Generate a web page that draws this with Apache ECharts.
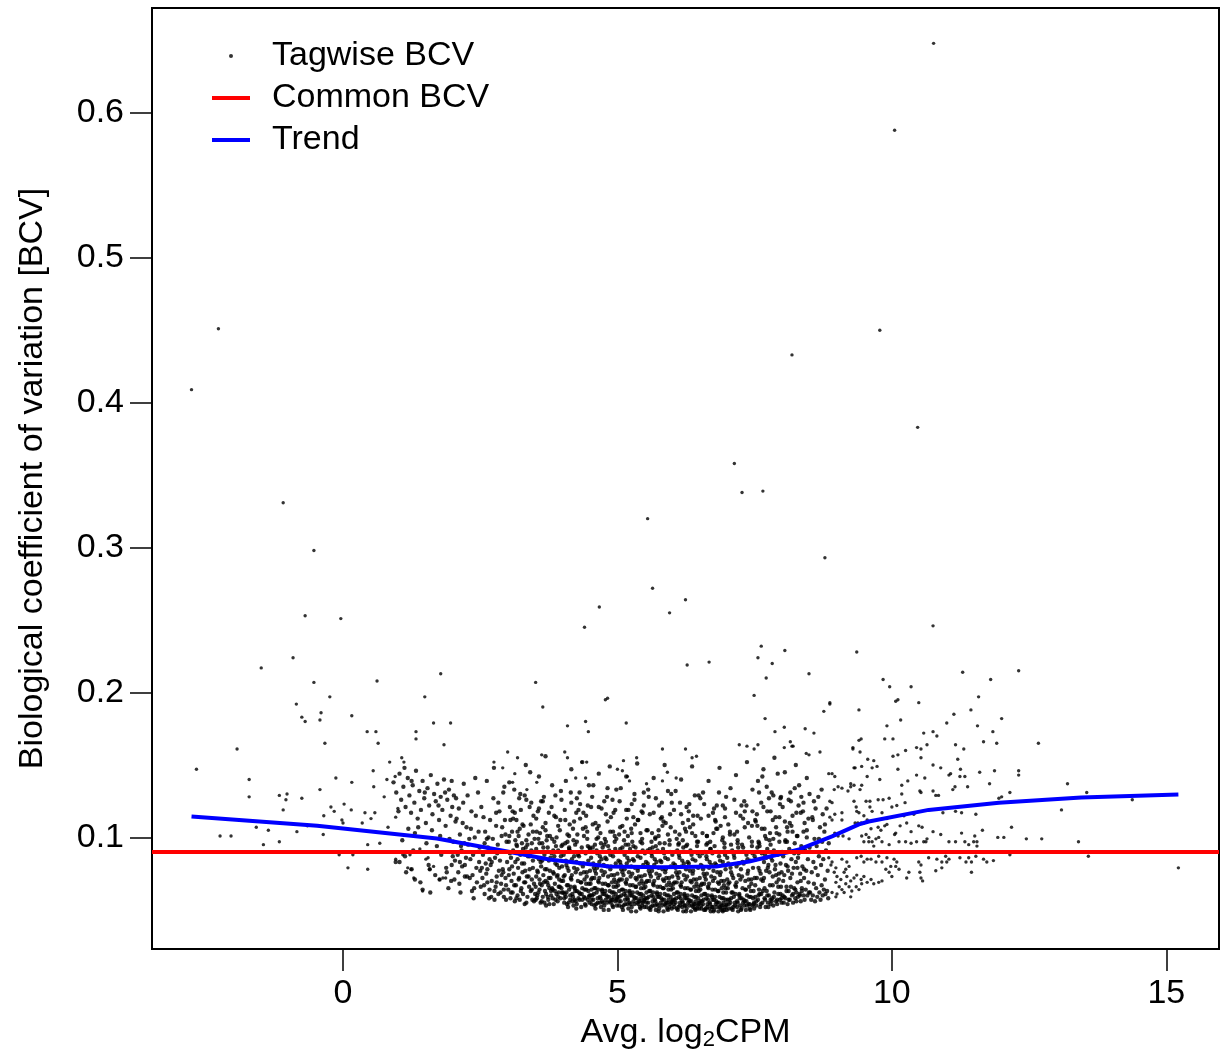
<!DOCTYPE html>
<html>
<head>
<meta charset="utf-8">
<title>BCV plot</title>
<script src="https://cdn.jsdelivr.net/npm/echarts@6/dist/echarts.min.js"></script>
<style>
  html, body { margin: 0; padding: 0; background: #fff; }
  #main { width: 1221px; height: 1056px; }
</style>
</head>
<body>
<div id="main"></div>
<script>
// tagwise BCV: avg logCPM * 100, BCV * 1000
const lowExpr = [
  -276,409, -227,451, -109,331, -53,298, -69,253, -4,251,
  -91,224, -149,217, -53,207, 62,208, 178,213, -24,197, -85,192, 149,197, -75,183, -69,180,
  -40,186, -42,181, 16,184, 165,179, 196,179, 44,173, 60,173, 64,165, -33,165, 133,173,
  133,168, 184,164, -193,161, -267,147, -171,140, -171,128, -116,129, -102,130, -104,126, -109,119,
  -75,127, -42,133, -13,141, 16,138, 55,146, 56,135, 85,152, 107,155, 111,152, 80,140,
  95,142, -22,121, -16,118, 2,123, 15,119, -35,115, -2,112, 0,110, 40,117, 51,113,
  58,117, 35,110, 75,128, 82,107, 96,114, 100,120, -158,107, -136,105, -224,101, -204,101,
  -116,97, -84,104, -65,108, -36,102, -145,95, -7,88, 9,79, 18,88, 45,78, 45,95,
  67,96, 71,90, 93,90, 96,85, 109,88, 122,88, 118,79, 124,78, 129,72, 145,63,
  140,92, 151,85, 155,86, 165,80, 158,78, 176,71, 182,72, 187,72
];

const midExpr = [
  92,138, 97,131, 103,144, 106,126, 110,135, 114,121, 118,141, 121,129, 124,117, 127,136,
  130,124, 133,146, 136,113, 139,132, 142,119, 145,139, 148,127, 151,110, 154,134, 157,122,
  160,143, 163,116, 166,130, 169,125, 172,137, 175,112, 178,128, 181,119, 184,140, 187,108,
  190,126, 193,133, 196,115, 199,121, 202,129, 205,111, 101,118, 112,148, 125,139, 137,107,
  149,131, 162,105, 174,122, 186,131, 198,139,
  201,97, 204,84, 207,113, 210,76, 213,102, 216,91, 219,124, 222,81, 225,107, 228,95,
  231,72, 234,118, 237,88, 240,100, 243,79, 246,131, 249,93, 212,68, 218,110, 224,86,
  230,99, 236,74, 242,115, 248,83, 206,127, 215,94, 233,106, 239,65, 245,90, 220,137,
  203,71, 209,88, 214,62, 221,96, 226,73, 232,85, 238,58, 244,69, 247,104, 250,77,
  211,120, 227,129, 241,141, 217,80, 235,63,
  103,83, 115,76, 128,91, 141,69, 156,81, 168,74, 179,88, 192,65, 171,94, 188,79, 197,70, 159,62,
  108,98, 131,103, 152,96, 177,101, 194,99, 119,106,
  96,83, 113,87, 125,78, 131,71, 145,64, 158,78, 176,71, 189,76, 198,81, 213,83, 222,73, 200,87
];

const coreA = [
  // 2.5 - 3.0
  252,121, 255,88, 257,67, 259,104, 261,75, 262,139, 264,93, 266,58, 268,112, 269,81,
  271,70, 273,99, 274,127, 276,63, 277,86, 279,108, 280,73, 282,95, 283,61, 285,118,
  286,84, 288,68, 289,101, 291,78, 292,131, 293,64, 294,90, 295,112, 296,72, 297,57,
  298,97, 299,83, 253,79, 258,96, 263,69, 267,85, 272,91, 278,66, 284,77, 290,107,
  256,114, 265,100, 270,59, 275,148, 281,89, 287,62, 292,76, 296,102, 260,82, 283,124,
  251,66, 254,72, 258,61, 263,78, 267,64, 271,83, 276,57, 280,69, 284,90, 289,74,
  293,59, 297,67, 262,99, 279,117, 294,135,
  // 3.0 - 3.5
  301,64, 302,97, 303,78, 304,121, 305,58, 306,86, 307,70, 308,104, 309,62, 310,91,
  311,75, 312,133, 313,56, 314,83, 315,67, 316,112, 317,94, 318,60, 319,79, 320,101,
  321,72, 322,57, 323,88, 324,119, 325,65, 326,96, 327,76, 328,61, 329,108, 330,82,
  331,54, 332,69, 333,93, 334,126, 335,73, 336,59, 337,87, 338,102, 339,66, 340,78,
  341,145, 342,63, 343,91, 344,71, 345,57, 346,84, 347,115, 348,68, 349,99, 350,61,
  302,74, 304,89, 306,62, 308,80, 310,113, 312,67, 314,98, 316,58, 318,85, 320,71,
  322,106, 324,63, 326,82, 328,92, 330,69, 332,77, 334,55, 336,95, 338,73, 340,87,
  342,109, 344,64, 346,79, 348,56, 303,138, 313,117, 323,130, 333,150, 343,124, 347,90,
  // 3.5 - 4.0
  351,66, 352,92, 353,58, 354,77, 355,118, 356,62, 357,85, 358,71, 359,103, 360,55,
  361,80, 362,67, 363,96, 364,59, 365,74, 366,128, 367,88, 368,63, 369,110, 370,53,
  371,78, 372,69, 373,93, 374,57, 375,84, 376,65, 377,101, 378,72, 379,60, 380,89,
  381,136, 382,64, 383,76, 384,54, 385,97, 386,68, 387,82, 388,114, 389,61, 390,73,
  391,56, 392,91, 393,66, 394,79, 395,105, 396,58, 397,87, 398,70, 399,62, 400,95,
  352,73, 354,60, 356,99, 358,64, 360,83, 362,56, 364,107, 366,69, 368,78, 370,61,
  372,90, 374,67, 376,54, 378,86, 380,121, 382,58, 384,75, 386,63, 388,94, 390,81,
  392,59, 394,71, 396,112, 398,65, 351,57, 355,76, 359,68, 363,84, 367,55, 371,98,
  375,72, 379,63, 383,91, 387,57, 391,74, 395,66, 399,80, 353,104, 357,142, 361,125,
  365,93, 369,70, 373,59, 377,77, 381,65, 385,87, 389,100, 393,62, 397,132, 369,156
];

const coreB = [
  // 4.0 - 4.5
  401,62, 402,88, 403,55, 404,74, 405,112, 406,59, 407,81, 408,67, 409,97, 410,52,
  411,77, 412,64, 413,91, 414,57, 415,72, 416,124, 417,85, 418,61, 419,106, 420,53,
  421,79, 422,66, 423,95, 424,56, 425,83, 426,63, 427,102, 428,70, 429,58, 430,87,
  431,131, 432,61, 433,75, 434,52, 435,93, 436,65, 437,80, 438,117, 439,59, 440,71,
  441,54, 442,89, 443,64, 444,76, 445,99, 446,57, 447,84, 448,68, 449,60, 450,92,
  401,70, 403,58, 405,96, 407,62, 409,79, 411,55, 413,109, 415,66, 417,74, 419,59,
  421,87, 423,63, 425,51, 427,78, 429,119, 431,57, 433,69, 435,61, 437,90, 439,76,
  441,58, 443,68, 445,104, 447,63, 449,55, 402,73, 404,61, 406,84, 408,54, 410,67,
  412,93, 414,60, 416,71, 418,56, 420,98, 422,65, 424,76, 426,54, 428,88, 430,62,
  432,113, 434,69, 436,57, 438,82, 440,64, 442,53, 444,73, 446,94, 448,59, 450,77,
  406,139, 416,147, 426,127, 436,152, 446,122, 412,101, 422,57, 432,82, 442,107, 448,136,
  // 4.5 - 5.0
  451,60, 452,86, 453,54, 454,72, 455,109, 456,57, 457,79, 458,65, 459,95, 460,51,
  461,75, 462,62, 463,89, 464,55, 465,70, 466,121, 467,83, 468,59, 469,103, 470,52,
  471,77, 472,64, 473,93, 474,55, 475,81, 476,61, 477,99, 478,68, 479,57, 480,85,
  481,128, 482,59, 483,73, 484,50, 485,91, 486,63, 487,78, 488,114, 489,57, 490,69,
  491,53, 492,87, 493,62, 494,74, 495,97, 496,56, 497,82, 498,66, 499,58, 500,90,
  451,68, 453,57, 455,93, 457,61, 459,77, 461,54, 463,106, 465,64, 467,72, 469,58,
  471,85, 473,61, 475,50, 477,76, 479,116, 481,55, 483,67, 485,59, 487,88, 489,74,
  491,57, 493,66, 495,101, 497,61, 499,53, 452,71, 454,60, 456,82, 458,53, 460,65,
  462,91, 464,58, 466,69, 468,55, 470,96, 472,63, 474,74, 476,53, 478,86, 480,60,
  482,111, 484,67, 486,56, 488,80, 490,62, 492,52, 494,71, 496,92, 498,57, 500,75,
  456,136, 466,144, 476,125, 486,149, 496,119, 462,99, 472,56, 482,80, 492,104, 498,133,
  453,64, 463,79, 473,68, 483,94, 493,59, 458,72, 468,87, 478,63, 488,55, 497,69,
  // 5.0 - 5.5
  501,59, 502,84, 503,53, 504,71, 505,107, 506,56, 507,78, 508,64, 509,93, 510,50,
  511,74, 512,61, 513,88, 514,54, 515,69, 516,119, 517,82, 518,58, 519,101, 520,51,
  521,76, 522,63, 523,92, 524,54, 525,80, 526,60, 527,97, 528,67, 529,56, 530,84,
  531,126, 532,58, 533,72, 534,49, 535,90, 536,62, 537,77, 538,112, 539,56, 540,68,
  541,52, 542,86, 543,61, 544,73, 545,96, 546,55, 547,81, 548,65, 549,57, 550,89,
  501,67, 503,56, 505,92, 507,60, 509,76, 511,53, 513,104, 515,63, 517,71, 519,57,
  521,84, 523,60, 525,49, 527,75, 529,114, 531,54, 533,66, 535,58, 537,87, 539,73,
  541,56, 543,65, 545,99, 547,60, 549,52, 502,70, 504,59, 506,81, 508,52, 510,64,
  512,90, 514,57, 516,68, 518,54, 520,95, 522,62, 524,73, 526,52, 528,85, 530,59,
  532,109, 534,66, 536,55, 538,79, 540,61, 542,51, 544,70, 546,91, 548,56, 550,74,
  506,134, 516,142, 526,123, 536,151, 546,117, 512,98, 522,55, 532,79, 542,103, 548,131,
  503,63, 513,78, 523,67, 533,93, 543,58, 508,71, 518,86, 528,62, 538,54, 547,68,
  505,83, 515,60, 525,106, 535,71, 545,53,
  // 5.5 - 6.0
  551,58, 552,83, 553,52, 554,70, 555,105, 556,55, 557,77, 558,63, 559,92, 560,50,
  561,73, 562,60, 563,87, 564,53, 565,68, 566,117, 567,81, 568,57, 569,99, 570,50,
  571,75, 572,62, 573,91, 574,53, 575,79, 576,59, 577,96, 578,66, 579,55, 580,83,
  581,124, 582,57, 583,71, 584,49, 585,89, 586,61, 587,76, 588,110, 589,55, 590,67,
  591,51, 592,85, 593,60, 594,72, 595,95, 596,54, 597,80, 598,64, 599,56, 600,88,
  551,66, 553,55, 555,91, 557,59, 559,75, 561,52, 563,103, 565,62, 567,70, 569,56,
  571,83, 573,59, 575,49, 577,74, 579,113, 581,53, 583,65, 585,57, 587,86, 589,72,
  591,55, 593,64, 595,98, 597,59, 599,51, 552,69, 554,58, 556,80, 558,51, 560,63,
  562,89, 564,56, 566,67, 568,53, 570,94, 572,61, 574,72, 576,51, 578,84, 580,58,
  582,108, 584,65, 586,54, 588,78, 590,60, 592,50, 594,69, 596,90, 598,55, 600,73,
  556,133, 566,141, 576,122, 586,150, 596,116, 562,97, 572,54, 582,78, 592,102, 598,130,
  553,62, 563,77, 573,66, 583,92, 593,57, 558,70, 568,85, 578,61, 588,53, 597,67,
  555,82, 565,59, 575,105, 585,70, 595,52
];

const coreC = [
  // 6.0 - 6.5
  601,57, 602,82, 603,52, 604,69, 605,104, 606,55, 607,76, 608,62, 609,91, 610,50,
  611,72, 612,59, 613,86, 614,53, 615,67, 616,116, 617,80, 618,56, 619,98, 620,49,
  621,74, 622,61, 623,90, 624,53, 625,78, 626,58, 627,95, 628,65, 629,55, 630,82,
  631,123, 632,56, 633,70, 634,49, 635,88, 636,60, 637,75, 638,109, 639,54, 640,66,
  641,51, 642,84, 643,59, 644,71, 645,94, 646,53, 647,79, 648,63, 649,55, 650,87,
  601,65, 603,54, 605,90, 607,58, 609,74, 611,52, 613,102, 615,61, 617,69, 619,55,
  621,82, 623,58, 625,49, 627,73, 629,112, 631,53, 633,64, 635,56, 637,85, 639,71,
  641,54, 643,63, 645,97, 647,58, 649,51, 602,68, 604,57, 606,79, 608,51, 610,62,
  612,88, 614,55, 616,66, 618,52, 620,93, 622,60, 624,71, 626,51, 628,83, 630,57,
  632,107, 634,64, 636,53, 638,77, 640,59, 642,50, 644,68, 646,89, 648,54, 650,72,
  606,132, 616,140, 626,121, 636,149, 646,115, 612,96, 622,53, 632,77, 642,101, 648,129,
  603,61, 613,76, 623,65, 633,91, 643,56, 608,69, 618,84, 628,60, 638,52, 647,66,
  605,81, 615,58, 625,104, 635,69, 645,51,
  // 6.5 - 7.0
  651,56, 652,81, 653,51, 654,68, 655,103, 656,54, 657,75, 658,61, 659,90, 660,50,
  661,71, 662,58, 663,85, 664,52, 665,66, 666,115, 667,79, 668,55, 669,97, 670,49,
  671,73, 672,60, 673,89, 674,52, 675,77, 676,57, 677,94, 678,64, 679,54, 680,81,
  681,122, 682,55, 683,69, 684,49, 685,87, 686,59, 687,74, 688,108, 689,53, 690,65,
  691,50, 692,83, 693,58, 694,70, 695,93, 696,52, 697,78, 698,62, 699,54, 700,86,
  651,64, 653,53, 655,89, 657,57, 659,73, 661,51, 663,101, 665,60, 667,68, 669,54,
  671,81, 673,57, 675,49, 677,72, 679,111, 681,52, 683,63, 685,55, 687,84, 689,70,
  691,53, 693,62, 695,96, 697,57, 699,50, 652,67, 654,56, 656,78, 658,50, 660,61,
  662,87, 664,54, 666,65, 668,51, 670,92, 672,59, 674,70, 676,50, 678,82, 680,56,
  682,106, 684,63, 686,52, 688,76, 690,58, 692,49, 694,67, 696,88, 698,53, 700,71,
  656,131, 666,139, 676,120, 686,148, 696,114, 662,95, 672,52, 682,76, 692,100, 698,128,
  653,60, 663,75, 673,64, 683,90, 693,55, 658,68, 668,83, 678,59, 688,51, 697,65,
  655,80, 665,57, 675,103, 685,68, 695,50,
  // 7.0 - 7.5
  701,57, 702,82, 703,51, 704,69, 705,104, 706,55, 707,76, 708,62, 709,91, 710,50,
  711,72, 712,59, 713,86, 714,53, 715,67, 716,117, 717,80, 718,56, 719,98, 720,49,
  721,74, 722,61, 723,90, 724,53, 725,78, 726,58, 727,95, 728,65, 729,55, 730,82,
  731,125, 732,56, 733,70, 734,50, 735,88, 736,60, 737,75, 738,110, 739,54, 740,66,
  741,51, 742,84, 743,59, 744,71, 745,94, 746,53, 747,79, 748,63, 749,55, 750,87,
  701,65, 703,54, 705,90, 707,58, 709,74, 711,52, 713,102, 715,61, 717,69, 719,55,
  721,82, 723,58, 725,50, 727,73, 729,113, 731,53, 733,64, 735,56, 737,85, 739,71,
  741,54, 743,63, 745,97, 747,58, 749,51, 702,68, 704,57, 706,79, 708,51, 710,62,
  712,88, 714,55, 716,66, 718,52, 720,93, 722,60, 724,71, 726,51, 728,83, 730,57,
  732,107, 734,64, 736,53, 738,77, 740,59, 742,50, 744,68, 746,89, 748,54, 750,72,
  706,134, 716,143, 726,122, 736,152, 746,118,
  // 7.5 - 8.0
  751,59, 752,85, 753,53, 754,72, 755,108, 756,57, 757,79, 758,64, 759,94, 760,52,
  761,75, 762,61, 763,89, 764,55, 765,70, 766,121, 767,83, 768,58, 769,101, 770,52,
  771,77, 772,63, 773,92, 774,55, 775,81, 776,60, 777,98, 778,67, 779,57, 780,86,
  781,131, 782,58, 783,73, 784,53, 785,91, 786,62, 787,78, 788,114, 789,56, 790,69,
  791,54, 792,88, 793,61, 794,75, 795,97, 796,57, 797,82, 798,66, 799,58, 800,90,
  751,67, 753,56, 755,93, 757,60, 759,77, 761,54, 763,106, 765,63, 767,72, 769,57,
  771,86, 773,60, 775,52, 777,76, 779,118, 781,56, 783,67, 785,59, 787,89, 789,74,
  791,57, 793,66, 795,102, 797,61, 799,55, 756,139, 766,147, 776,127, 786,155, 796,123,
  752,111, 762,71, 772,135, 782,84, 792,144, 758,96, 768,65, 778,103, 788,81, 798,128,
  754,116, 764,142, 774,79, 784,99, 794,71, 759,61, 769,88, 779,54, 789,107, 799,76
];

const coreD = [
  // 8.0 - 8.5
  801,60, 802,87, 803,55, 804,74, 805,111, 806,58, 807,81, 808,66, 809,97, 810,54,
  811,77, 812,63, 813,92, 814,57, 815,72, 816,125, 817,85, 818,60, 819,104, 820,55,
  821,79, 822,65, 823,96, 824,58, 825,83, 826,62, 827,101, 828,69, 829,59, 830,89,
  831,136, 832,61, 833,75, 834,56, 835,94, 836,65, 837,80, 838,118, 839,60, 840,72,
  841,57, 842,91, 843,64, 844,77, 845,100, 846,60, 847,85, 848,69, 849,62, 850,93,
  802,70, 804,59, 806,97, 808,63, 810,80, 812,57, 814,110, 816,66, 818,75, 820,61,
  822,89, 824,64, 826,56, 828,79, 830,122, 832,60, 834,70, 836,63, 838,92, 840,78,
  805,145, 815,131, 825,150, 835,128, 845,141, 809,107, 819,115, 829,86, 839,104, 848,113,
  // 8.5 - 8.85
  851,62, 852,90, 853,57, 854,76, 855,114, 856,60, 857,83, 858,68, 859,99, 860,56,
  861,79, 862,65, 863,94, 864,59, 865,74, 866,128, 867,87, 868,62, 869,107, 870,57,
  871,81, 872,67, 873,97, 874,60, 875,85, 876,64, 877,104, 878,71, 879,61, 880,91,
  881,120, 882,63, 883,77, 884,58, 885,96
];

// the band just above the common BCV line, 3 < logCPM < 9
const coreUpper = [
  303,101, 309,118, 316,95, 321,127, 327,109, 334,98, 340,121, 346,104, 352,113, 358,96,
  364,125, 369,105, 375,117, 381,99, 387,129, 392,108, 398,94, 404,119, 409,102, 415,131,
  421,111, 426,97, 432,123, 437,106, 443,115, 449,93, 454,128, 460,110, 465,100, 471,120,
  476,95, 482,134, 487,104, 493,117, 498,99, 504,125, 509,108, 515,95, 520,119, 526,103,
  531,130, 537,112, 542,97, 548,122, 553,105, 559,116, 564,93, 570,127, 575,101, 581,114,
  586,96, 592,132, 597,107, 603,119, 608,99, 614,124, 619,110, 625,94, 630,118, 636,103,
  641,129, 647,97, 652,113, 658,123, 663,101, 669,92, 674,117, 680,106, 685,131, 691,98,
  696,120, 702,109, 707,95, 713,126, 718,104, 724,115, 729,93, 735,122, 740,100, 746,133,
  751,112, 757,97, 762,124, 768,106, 773,118, 779,95, 784,129, 790,103, 795,114, 801,121,
  806,98, 812,126, 817,108, 823,134, 828,101, 834,117, 839,124, 845,105, 850,130, 856,112,
  861,120, 867,99, 872,133, 878,109, 305,112, 318,104, 331,129, 344,96, 357,120, 372,101,
  385,115, 398,126, 412,92, 425,117, 439,101, 452,121, 466,108, 479,97, 491,126, 503,102,
  517,113, 529,94, 544,118, 557,128, 569,100, 584,111, 599,124, 611,95, 623,106, 638,115,
  651,127, 664,96, 678,112, 692,122, 705,102, 719,96, 732,118, 745,108, 758,131, 771,99,
  783,112, 797,127, 810,104, 826,117, 841,110, 858,125, 874,116
];

const highExpr = [
  984,209, 996,204, 1035,204, 1129,214, 887,193, 940,188, 1007,194, 1011,195, 1049,193, 1158,197,
  1016,181, 1100,179, 1113,185, 1144,188, 991,177, 1156,177, 1058,172, 1075,173, 1082,170, 987,168,
  1002,168, 940,167, 944,168, 1025,160, 1045,162, 1053,161, 1064,164, 1053,155, 1116,164, 1131,161,
  1167,166, 929,162, 942,159, 1002,156, 1011,157, 1075,150, 1120,154, 956,154, 967,153, 945,149,
  931,148, 933,148, 964,148, 973,149, 1011,147, 1089,148, 1125,147, 1160,145, 885,144, 891,144,
  896,142, 925,137, 931,136, 925,135, 955,142, 978,140, 1104,143, 1107,144, 1045,143, 1029,139,
  1060,141, 1018,136, 902,135, 909,134, 895,133, 945,136, 942,133, 1115,135, 1124,142, 1133,142,
  1138,135, 920,132, 1018,130, 1051,132, 1053,131, 1075,132, 1080,129, 1085,129, 1111,133, 975,126,
  984,126, 995,127, 953,125, 960,125, 960,121, 931,125, 935,121, 887,125, 891,124, 1024,124,
  1009,122, 1000,121, 936,118, 940,117, 949,115, 909,117, 896,116, 964,118, 982,117, 1022,115,
  887,114, 891,112, 955,112, 949,110, 991,113, 991,109, 1040,116, 1093,117, 1116,118, 1127,117,
  1153,116, 933,110, 938,110, 944,110, 909,112, 962,106, 975,107, 980,105, 987,108, 1049,108,
  1055,107, 1035,104, 1015,108, 1007,103, 1005,102, 1027,110, 1089,102, 1075,104, 1165,105, 1127,103,
  1151,101, 1064,99, 1062,97, 1058,97, 896,103, 902,101, 911,101, 922,99, 945,101, 953,102,
  958,100, 964,97, 971,99, 976,100, 982,97, 949,97, 958,97, 967,94, 995,95, 1013,97,
  1025,97, 1035,96, 1045,97, 1104,97, 1116,97, 1133,97, 1140,95, 1149,97, 1155,97,
  885,86, 891,83, 889,81, 898,79, 909,85, 918,83, 922,80, 916,78, 931,90, 936,86,
  944,87, 949,83, 955,85, 962,85, 971,83, 976,87, 982,83, 991,86, 1004,85, 1009,83,
  998,80, 1013,78, 989,78, 1031,76, 1027,72, 1049,83, 1053,81, 1051,76, 1053,72, 1056,70,
  1067,86, 1082,85, 1091,83, 1098,87, 1100,83, 1104,85, 1080,77, 1091,79, 1124,86, 1127,90,
  1135,83, 1140,86, 1145,83, 1153,87, 1155,94, 1145,76, 1167,85, 1173,83,
  895,76, 900,73, 907,71, 913,76, 918,73, 925,70, 931,72, 936,74, 944,71, 949,73,
  955,69, 962,71, 898,69, 904,66, 909,64, 916,68, 922,66, 927,63, 935,66, 940,64,
  945,68, 891,62, 900,61, 913,62, 925,59, 898,59, 976,69, 982,70, 967,68, 1000,73,
  995,76, 1007,80,
  1180,209, 1231,215, 1200,182, 1184,173, 1191,165, 1267,165, 1187,146, 1231,146, 1231,143, 1178,137,
  1320,137, 1215,131, 1195,127, 1200,128, 1355,131, 1438,126, 1309,119, 1218,107, 1193,100, 1204,100,
  1245,99, 1273,99, 1340,97, 1187,90, 1215,88, 1185,84, 1358,87, 1522,79
];

const outliers = [
  1076,648, 1005,588, 978,450, 818,433, 1047,383, 713,358, 727,338, 765,339, 878,293, 555,320,
  564,272, 624,264, 595,255, 467,259, 440,245, 1075,246,
  351,207, 364,190, 478,195, 482,196, 409,177, 442,180, 447,173, 516,179, 627,219, 667,221,
  762,232, 756,224, 782,220, 805,229, 771,210, 749,198, 849,213, 769,182, 787,173, 804,176,
  842,175, 858,172, 876,187, 887,192, 936,228, 404,159, 409,155, 362,157, 582,161, 624,161,
  722,164, 736,163, 749,161, 756,164, 804,162, 818,163, 929,161, 869,159, 636,155, 644,156,
  815,166, 820,163, 844,158, 849,157, 435,152, 444,152, 500,147, 511,153, 535,155, 509,146,
  424,141, 442,141, 518,142, 522,139, 553,137, 582,139, 591,145, 607,141,
  300,159, 318,155, 275,152, 291,148, 313,144, 309,138, 335,133, 353,138
];

const commonBCV = 0.0917;

const trendX = [-2.76, -0.47, 1.71, 2.80, 3.76, 4.85, 5.80, 6.80, 7.40, 8.31, 8.91, 9.40, 9.58, 10.67, 11.95, 13.45, 15.22];
const trendY = [0.1145, 0.108, 0.0993, 0.0917, 0.0848, 0.080, 0.0795, 0.080, 0.0834, 0.0917, 0.1007, 0.109, 0.111, 0.119, 0.124, 0.1276, 0.1297];

const xTicks = [0, 5, 10, 15];
const yTicks = [0.1, 0.2, 0.3, 0.4, 0.5, 0.6];

const FONT = '"Liberation Sans", Arial, Helvetica, sans-serif';

function toPoints(lists) {
  const out = [];
  lists.forEach(a => {
    for (let i = 0; i < a.length; i += 2) out.push([a[i] / 100, a[i + 1] / 1000]);
  });
  return out;
}

const sparsePts = toPoints([lowExpr, highExpr, outliers]);
const densePts = toPoints([midExpr, coreA, coreB, coreC, coreD, coreUpper]);
const trend = trendX.map((x, i) => [x, trendY[i]]);

const chart = echarts.init(document.getElementById('main'));

const option = {
  animation: false,
  backgroundColor: '#fff',
  grid: {
    left: 152, top: 8, width: 1067, height: 942,
    show: true, borderColor: '#000', borderWidth: 2
  },
  legend: {
    orient: 'vertical',
    left: 207, top: 34,
    itemWidth: 38, itemHeight: 4, itemGap: 8,
    selectedMode: false,
    textStyle: { fontSize: 34, color: '#000', fontFamily: FONT, lineHeight: 34, padding: [0, 0, 0, 17] },
    data: [
      { name: 'Tagwise BCV', icon: 'circle' },
      { name: 'Common BCV', icon: 'rect' },
      { name: 'Trend', icon: 'rect' }
    ]
  },
  xAxis: {
    type: 'value',
    min: -3.48, max: 15.96,
    splitLine: { show: false },
    axisLine: { show: false, onZero: false },
    axisTick: { show: true, length: 22, customValues: xTicks, lineStyle: { color: '#000', width: 1.5 } },
    axisLabel: { customValues: xTicks, margin: 28, fontSize: 34, color: '#000', fontFamily: FONT },
    name: 'Avg. log{sub|2}CPM',
    nameLocation: 'middle',
    nameGap: 66,
    nameTextStyle: {
      fontSize: 34, color: '#000', fontFamily: FONT,
      rich: { sub: { fontSize: 22, color: '#000', fontFamily: FONT, padding: [14, 0, 0, 0] } }
    }
  },
  yAxis: {
    type: 'value',
    min: 0.023, max: 0.6724,
    splitLine: { show: false },
    axisLine: { show: false, onZero: false },
    axisTick: { show: true, length: 22, customValues: yTicks, lineStyle: { color: '#000', width: 1.5 } },
    axisLabel: {
      customValues: yTicks, margin: 28, fontSize: 34, color: '#000', fontFamily: FONT,
      formatter: v => v.toFixed(1)
    },
    name: 'Biological coefficient of variation [BCV]',
    nameLocation: 'middle',
    nameRotate: 90,
    nameGap: 102,
    nameTextStyle: { fontSize: 34, color: '#000', fontFamily: FONT }
  },
  series: [
    {
      name: 'Tagwise BCV',
      type: 'scatter',
      symbol: 'circle',
      symbolSize: 3.4,
      itemStyle: { color: '#000' },
      silent: true,
      z: 2,
      data: sparsePts
    },
    {
      // same legend entry; the crowded middle is drawn a little heavier
      name: 'Tagwise BCV',
      type: 'scatter',
      symbol: 'circle',
      symbolSize: 4.4,
      itemStyle: { color: '#000' },
      silent: true,
      z: 2,
      data: densePts
    },
    {
      name: 'Common BCV',
      type: 'line',
      data: [],
      itemStyle: { color: '#ff0000' },
      lineStyle: { color: '#ff0000', width: 4 },
      z: 3,
      markLine: {
        silent: true,
        symbol: ['none', 'none'],
        label: { show: false },
        lineStyle: { color: '#ff0000', width: 4, type: 'solid' },
        data: [{ yAxis: commonBCV }]
      }
    },
    {
      name: 'Trend',
      type: 'line',
      showSymbol: false,
      silent: true,
      itemStyle: { color: '#0000ff' },
      lineStyle: { color: '#0000ff', width: 4 },
      z: 4,
      data: trend
    }
  ]
};

chart.setOption(option);
</script>
</body>
</html>
